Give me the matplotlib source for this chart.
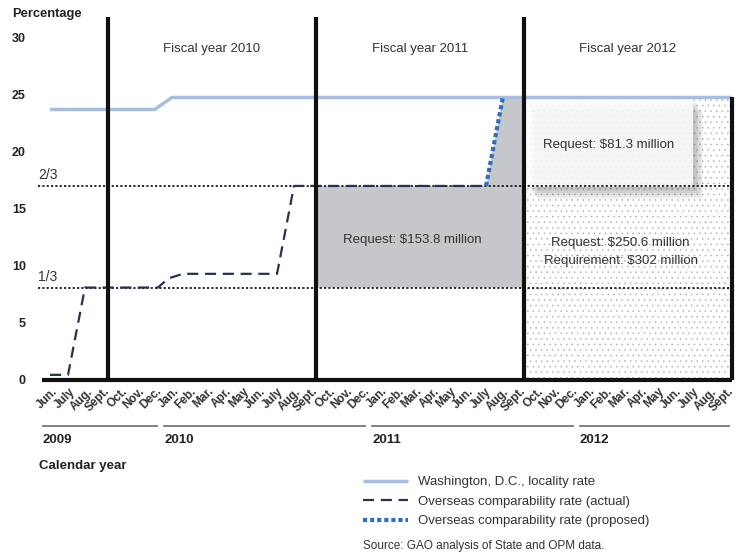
import numpy as np
import matplotlib.pyplot as plt
import matplotlib.transforms as mtransforms
from matplotlib.patches import Rectangle, Polygon
from matplotlib.lines import Line2D

plt.rcParams['font.family'] = ['Liberation Sans', 'DejaVu Sans']
plt.rcParams['hatch.color'] = '#a8a8a8'
plt.rcParams['hatch.linewidth'] = 0.3

# x is counted in months from the start of June 2009
cal = ['Jan.', 'Feb.', 'Mar.', 'Apr.', 'May', 'Jun.', 'July', 'Aug.',
       'Sept.', 'Oct.', 'Nov.', 'Dec.']
month_labels = cal[5:] + cal + cal + cal[:9]

years = ['2009', '2010', '2011', '2012']
year_first = [0, 7, 19, 31]
year_last = [6, 18, 30, 39]

fiscal_years = ['Fiscal year 2010', 'Fiscal year 2011', 'Fiscal year 2012']
fiscal_start = [4, 16, 28]
fiscal_end = [16, 28, 40]

dc_x = [0.67, 6.72, 7.7, 40]
dc_y = [23.7, 23.7, 24.75, 24.75]

actual_x = [0.67, 1.71, 2.69, 6.9, 7.5, 8.34, 13.77, 14.75, 25.83]
actual_y = [0.45, 0.45, 8.1, 8.1, 8.9, 9.3, 9.3, 17.0, 17.0]

proposed_x = [25.83, 26.8]
proposed_y = [17.0, 24.75]

one_third = 8.1
two_thirds = 17.0
dc_top = 24.75

y_ticks = [0, 5, 10, 15, 20, 25, 30]

fig = plt.figure(figsize=(7.36, 5.55), dpi=100)
ax = fig.add_axes([38.4 / 736, 1 - 380 / 555, 693.2 / 736, 363 / 555])
ax.set_xlim(0, 40)
ax.set_ylim(0, 31.8)
for s in ax.spines.values():
    s.set_visible(False)

# fiscal year 2011 request (gray area)
fy11 = Polygon([(fiscal_start[1], one_third), (fiscal_start[1], two_thirds),
                (proposed_x[0], proposed_y[0]), (proposed_x[1], proposed_y[1]),
                (fiscal_end[1], dc_top), (fiscal_end[1], one_third)],
               closed=True, facecolor='#c6c7ca', edgecolor='none', zorder=1)
ax.add_patch(fy11)

# fiscal year 2012 requirement (stippled area)
fy12 = Rectangle((fiscal_start[2], 0), fiscal_end[2] - fiscal_start[2], dc_top,
                 facecolor='white', edgecolor='#a8a8a8', lw=0, hatch='...', zorder=1)
ax.add_patch(fy12)

# box with a soft shadow for the $81.3 million request
bx0, bx1 = 28.2, 37.8
by0, by1 = two_thirds - 0.05, 24.6
for k in range(6):
    off = 0.06 * (k + 1)
    sh = Rectangle((bx0 + off * 1.6, by0 - off * 3.0), bx1 - bx0, by1 - by0,
                   facecolor='#555555', edgecolor='none', alpha=0.07, zorder=2)
    ax.add_patch(sh)
box = Rectangle((bx0, by0), bx1 - bx0, by1 - by0, facecolor='white',
                edgecolor='none', alpha=0.85, zorder=3)
ax.add_patch(box)

# one third / two thirds reference lines
for v in [one_third, two_thirds]:
    ax.plot([0, 40], [v, v], color='#1a1a1a', lw=1.3, linestyle=(0, (1.2, 1.2)),
            zorder=4, clip_on=False)
ax.text(0, two_thirds + 0.35, '2/3', fontsize=10, color='#333333', va='bottom', ha='left')
ax.text(0, one_third + 0.35, '1/3', fontsize=10, color='#333333', va='bottom', ha='left')

ax.plot(dc_x, dc_y, color='#a9bde0', lw=2.5, solid_capstyle='butt', zorder=5,
        label='Washington, D.C., locality rate')
ax.plot(actual_x, actual_y, color='#24334f', lw=1.6, dashes=(5, 3), zorder=5,
        label='Overseas comparability rate (actual)')
ax.plot(proposed_x, proposed_y, color='#2f6fbe', lw=3, dashes=(1.0, 0.7), zorder=5,
        label='Overseas comparability rate (proposed)')

# fiscal year dividers
ax.vlines(fiscal_start, 0, 31.8, colors='#111111', lw=3, zorder=6)
ax.vlines([fiscal_end[2]], 0, dc_top, colors='#111111', lw=3, zorder=6, clip_on=False)
ax.hlines([0], 0.2, 40, colors='#111111', lw=3, zorder=6, clip_on=False)

for name, a, b in zip(fiscal_years, fiscal_start, fiscal_end):
    ax.text((a + b) / 2, 29.0, name, ha='center', va='center', fontsize=9.5, color='#333333')

ax.text(21.6, 12.25, 'Request: $153.8 million', ha='center', va='center',
        fontsize=9.5, color='#333333', zorder=7)
ax.text(32.9, 20.6, 'Request: $81.3 million', ha='center', va='center',
        fontsize=9.5, color='#333333', zorder=7)
ax.text(33.6, 12.0, 'Request: $250.6 million', ha='center', va='center',
        fontsize=9.5, color='#333333', zorder=7)
ax.text(33.6, 10.4, 'Requirement: $302 million', ha='center', va='center',
        fontsize=9.5, color='#333333', zorder=7)

ax.set_yticks(y_ticks)
ax.set_yticklabels([str(v) for v in y_ticks], fontsize=9, fontweight='bold', color='#222222')
ax.set_xticks(np.arange(len(month_labels)) + 0.5)
ax.set_xticklabels(month_labels, rotation=45, ha='right', va='center',
                   rotation_mode='anchor', fontsize=8.5, fontweight='bold', color='#333333')
ax.tick_params(axis='both', length=0)
ax.tick_params(axis='y', pad=9)
ax.tick_params(axis='x', pad=7)
shift = mtransforms.ScaledTranslation(9 / 100, 0, fig.dpi_scale_trans)
for lab in ax.get_xticklabels():
    lab.set_transform(lab.get_transform() + shift)

# calendar year brackets
tr = mtransforms.blended_transform_factory(ax.transData, fig.transFigure)
for name, a, b in zip(years, year_first, year_last):
    fig.add_artist(Line2D([a + 0.25, b + 0.85], [1 - 426 / 555] * 2, transform=tr,
                          color='#777777', lw=1.3))
    fig.text(a + 0.25, 1 - 440 / 555, name, transform=tr, fontsize=9.5,
             fontweight='bold', color='#222222', va='center', ha='left')

fig.text(12 / 736, 1 - 14 / 555, 'Percentage', fontsize=9.3, fontweight='bold',
         color='#222222', va='center', ha='left')
fig.text(39 / 736, 1 - 466 / 555, 'Calendar year', fontsize=9.5, fontweight='bold',
         color='#222222', va='center', ha='left')

handles, labels = ax.get_legend_handles_labels()
fig.legend(handles, labels, loc='upper left', bbox_to_anchor=(363 / 736, 1 - 476 / 555),
           frameon=False, fontsize=9.5, handlelength=3.4, handletextpad=0.8,
           labelspacing=0.55, borderpad=0, borderaxespad=0, labelcolor='#333333')
fig.text(363 / 736, 1 - 546 / 555, 'Source: GAO analysis of State and OPM data.',
         fontsize=8.5, color='#333333', va='center', ha='left')

fig.savefig('out.png', dpi=100)
